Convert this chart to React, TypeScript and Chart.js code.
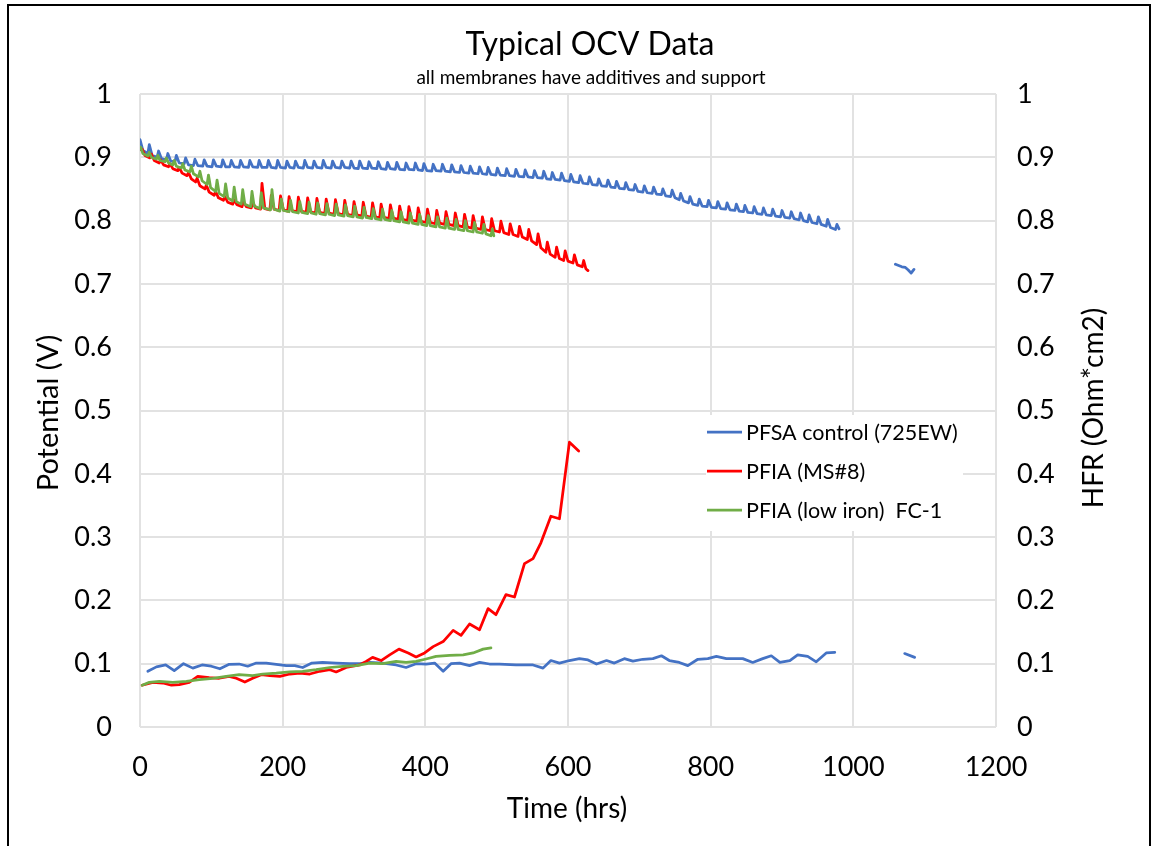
import React, { useEffect, useRef } from 'react';
import { Chart, registerables } from 'chart.js';

Chart.register(...registerables);

const FONT = 'Lato, "Open Sans", sans-serif';

const chartTitle = 'Typical OCV Data';
const chartSubtitle = 'all membranes have additives and support';
const xAxisTitle = 'Time (hrs)';
const yAxisTitle = 'Potential (V)';
const y1AxisTitle = 'HFR (Ohm*cm2)';

const xTickLabels = ['0', '200', '400', '600', '800', '1000', '1200'];
const yTickLabels = ['0', '0.1', '0.2', '0.3', '0.4', '0.5', '0.6', '0.7', '0.8', '0.9', '1'];

const seriesNames = ['PFSA control (725EW)', 'PFIA (MS#8)', 'PFIA (low iron)  FC-1'];
const seriesColors = ['#4472C4', '#FF0000', '#70AD47'];

type Pt = [number, number | null];

// OCV (potential, V) vs time (hrs)
const pfsaOcv: Pt[] = [
  [0, .928], [4, .911], [11, .906],
  [13, .920], [17, .903], [24, .900],
  [26, .910], [30, .898], [37, .896],
  [39, .906], [43, .894], [49, .893],
  [51, .903], [55, .891], [62, .890],
  [64, .899], [68, .888], [75, .887],
  [77, .897], [81, .887], [88, .886],
  [90, .896], [94, .886], [101, .885],
  [103, .896], [107, .886], [114, .885],
  [116, .896], [120, .885], [126, .885],
  [128, .895], [132, .885], [139, .884],
  [141, .895], [145, .885], [152, .884],
  [154, .895], [158, .885], [165, .884],
  [167, .895], [171, .884], [178, .884],
  [180, .895], [184, .884], [191, .883],
  [193, .895], [197, .884], [204, .883],
  [206, .894], [210, .884], [216, .883],
  [218, .894], [222, .884], [229, .883],
  [231, .895], [235, .884], [242, .883],
  [244, .894], [248, .884], [255, .883],
  [257, .895], [261, .884], [268, .883],
  [270, .894], [274, .884], [281, .883],
  [283, .894], [287, .884], [294, .883],
  [296, .894], [300, .883], [306, .882],
  [308, .894], [312, .883], [319, .882],
  [321, .893], [325, .883], [332, .882],
  [334, .893], [338, .882], [345, .881],
  [347, .892], [351, .882], [358, .881],
  [360, .892], [364, .881], [371, .880],
  [373, .891], [377, .881], [384, .880],
  [386, .891], [390, .880], [396, .879],
  [398, .890], [402, .879], [409, .878],
  [411, .889], [415, .879], [422, .878],
  [424, .889], [428, .878], [435, .877],
  [437, .888], [441, .877], [448, .876],
  [450, .887], [454, .876], [461, .875],
  [463, .886], [467, .875], [474, .874],
  [476, .885], [480, .874], [486, .873],
  [488, .884], [492, .873], [499, .872],
  [501, .883], [505, .872], [512, .871],
  [514, .882], [518, .871], [525, .870],
  [527, .881], [531, .870], [538, .869],
  [540, .880], [544, .869], [551, .868],
  [553, .879], [557, .868], [564, .867],
  [566, .878], [570, .866], [576, .865],
  [578, .876], [582, .865], [589, .864],
  [591, .875], [595, .863], [602, .862],
  [604, .873], [608, .861], [615, .860],
  [617, .871], [621, .859], [628, .858],
  [630, .869], [634, .857], [641, .856],
  [643, .866], [647, .855], [654, .854],
  [656, .864], [660, .853], [666, .852],
  [668, .862], [672, .851], [679, .850],
  [681, .860], [685, .849], [692, .848],
  [694, .857], [698, .846], [705, .845],
  [707, .855], [711, .844], [718, .843],
  [720, .853], [724, .842], [731, .841],
  [733, .850], [737, .839], [744, .838],
  [746, .848], [750, .836], [756, .833],
  [758, .843], [762, .831], [769, .828],
  [771, .838], [775, .826], [782, .824],
  [784, .834], [788, .823], [795, .822],
  [797, .832], [801, .821], [808, .820],
  [810, .830], [814, .819], [821, .818],
  [823, .828], [827, .817], [834, .816],
  [836, .826], [840, .815], [846, .814],
  [848, .824], [852, .813], [859, .812],
  [861, .822], [865, .811], [872, .810],
  [874, .820], [878, .809], [885, .808],
  [887, .818], [891, .807], [898, .806],
  [900, .816], [904, .805], [911, .804],
  [913, .814], [917, .803], [924, .801],
  [926, .812], [930, .800], [936, .798],
  [938, .809], [942, .797], [949, .795],
  [951, .806], [955, .794], [962, .791],
  [964, .802], [968, .789], [975, .786],
  [977, .794], [980, .787],
  [1020, null],
  [1059, .731], [1068, .727], [1073, .726], [1077, .722], [1081, .717], [1085, .723],
];

const pfiaOcv: Pt[] = [
  [0, .912],
  [3, .913], [7, .903], [14, .899],
  [16, .905], [20, .895], [27, .891],
  [29, .896], [33, .888], [40, .885],
  [42, .890], [46, .882], [53, .879],
  [55, .884], [59, .875], [66, .871],
  [68, .876], [72, .866], [78, .861],
  [80, .867], [84, .855], [91, .850],
  [93, .856], [97, .845], [104, .840],
  [106, .846], [110, .836], [117, .832],
  [119, .838], [123, .829], [130, .826],
  [132, .833], [136, .825], [143, .822],
  [145, .830], [149, .822], [156, .820],
  [158, .829], [162, .820], [169, .818],
  [171, .859], [175, .819], [182, .817],
  [184, .840], [188, .818], [195, .816],
  [197, .839], [201, .817], [207, .815],
  [209, .838], [213, .816], [220, .814],
  [222, .837], [226, .815], [233, .813],
  [235, .836], [239, .814], [246, .812],
  [248, .835], [252, .813], [259, .811],
  [261, .834], [265, .812], [272, .810],
  [274, .833], [278, .811], [285, .809],
  [287, .832], [291, .810], [298, .808],
  [300, .830], [304, .809], [311, .807],
  [313, .829], [317, .807], [324, .805],
  [326, .828], [330, .806], [336, .804],
  [338, .826], [342, .805], [349, .803],
  [351, .825], [355, .804], [362, .802],
  [364, .823], [368, .802], [375, .800],
  [377, .822], [381, .801], [388, .799],
  [390, .820], [394, .799], [401, .797],
  [403, .818], [407, .797], [414, .795],
  [416, .816], [420, .796], [427, .794],
  [429, .814], [433, .794], [440, .792],
  [442, .812], [446, .792], [453, .790],
  [455, .810], [459, .790], [465, .788],
  [467, .808], [471, .788], [478, .786],
  [480, .806], [484, .786], [491, .784],
  [493, .803], [497, .784], [504, .782],
  [506, .799], [510, .781], [517, .778],
  [519, .795], [523, .778], [530, .775],
  [532, .791], [536, .774], [543, .770],
  [545, .786], [549, .768], [556, .762],
  [558, .779], [562, .757], [569, .750],
  [571, .766], [575, .747], [582, .742],
  [584, .758], [588, .740], [594, .737],
  [596, .752], [600, .736], [607, .733],
  [609, .746], [613, .730], [620, .727],
  [622, .737], [625, .724], [628, .721],
];

const pfiaLowFeOcv: Pt[] = [
  [0, .913],
  [1, .916], [4, .906], [11, .902],
  [13, .908], [16, .900], [23, .897],
  [25, .903], [28, .895], [35, .893],
  [37, .899], [40, .891], [46, .888],
  [48, .895], [51, .886], [58, .883],
  [60, .890], [63, .880], [70, .877],
  [72, .886], [75, .874], [82, .869],
  [84, .878], [87, .863], [94, .857],
  [96, .872], [99, .852], [106, .846],
  [108, .864], [111, .843], [118, .838],
  [120, .858], [123, .836], [130, .831],
  [132, .853], [135, .830], [142, .826],
  [144, .849], [147, .826], [155, .822],
  [157, .846], [160, .823], [168, .819],
  [170, .844], [173, .820], [183, .817],
  [185, .849], [188, .818], [196, .815],
  [198, .834], [201, .816], [209, .814],
  [211, .832], [214, .814], [222, .812],
  [224, .830], [227, .813], [235, .811],
  [237, .829], [240, .812], [247, .810],
  [249, .828], [252, .811], [260, .809],
  [262, .827], [265, .810], [273, .808],
  [275, .826], [278, .809], [286, .807],
  [288, .825], [291, .808], [299, .806],
  [301, .823], [304, .806], [312, .804],
  [314, .821], [317, .805], [325, .803],
  [327, .819], [330, .803], [338, .801],
  [340, .818], [343, .802], [351, .800],
  [353, .816], [356, .800], [364, .798],
  [366, .814], [369, .798], [377, .796],
  [379, .812], [382, .796], [390, .794],
  [392, .810], [395, .794], [402, .792],
  [404, .808], [407, .792], [415, .790],
  [417, .806], [420, .790], [428, .788],
  [430, .804], [433, .788], [441, .786],
  [443, .802], [446, .786], [454, .784],
  [456, .800], [459, .784], [467, .782],
  [469, .797], [472, .782], [480, .780],
  [482, .794], [485, .779], [492, .776],
  [494, .787], [496, .776],
];

// HFR (Ohm*cm2) vs time (hrs)
const pfsaHfr: Pt[] = [
  [11, .088], [23, .095], [36, .098], [48, .089], [61, .100], [74, .093], [87, .098],
  [100, .096], [112, .092], [125, .099], [139, .0995], [151, .096], [163, .101], [177, .101],
  [191, .099], [205, .097], [217, .097], [228, .094], [241, .101], [256, .102], [275, .101],
  [294, .100], [308, .100], [322, .102], [340, .101], [359, .098], [373, .094], [387, .100],
  [401, .0995], [413, .101], [425, .088], [436, .100], [448, .101], [462, .097], [476, .102],
  [490, .0995], [504, .0995], [527, .098], [551, .098], [565, .093], [576, .105], [588, .101],
  [602, .105], [616, .108], [628, .106], [640, .0995], [654, .105], [665, .101], [679, .108],
  [691, .104], [705, .107], [719, .108], [731, .1125], [742, .105], [756, .102], [768, .097],
  [782, .107], [796, .108], [808, .1115], [822, .108], [845, .108], [859, .102], [873, .108],
  [885, .1125], [897, .102], [911, .105], [922, .114], [936, .1115], [948, .103], [962, .117],
  [974, .118],
  [1020, null],
  [1072, .116], [1086, .110],
];

const pfiaHfr: Pt[] = [
  [3, .066], [18, .0705], [32, .0695], [44, .066], [55, .067], [69, .0705], [81, .080],
  [97, .078], [111, .077], [125, .080], [135, .077], [147, .071], [158, .077], [170, .0826],
  [182, .081], [196, .080], [210, .0837], [224, .085], [238, .0837], [252, .088], [266, .0905],
  [275, .087], [289, .094], [308, .098], [317, .1036], [326, .110], [338, .105], [350, .114],
  [363, .123], [376, .117], [387, .1106], [399, .117], [411, .127], [425, .135], [439, .1526],
  [450, .1447], [462, .1627], [476, .1537], [488, .187], [499, .1774], [513, .209], [525, .2054],
  [539, .258], [551, .266], [562, .291], [576, .333], [588, .329], [602, .450], [615, .436],
];

const pfiaLowFeHfr: Pt[] = [
  [3, .066], [13, .0705], [27, .072], [46, .0705], [65, .072], [83, .0747], [102, .0768],
  [121, .080], [139, .0826], [158, .081], [172, .0837], [191, .085], [210, .087], [228, .0878],
  [247, .0905], [266, .094], [284, .0957], [303, .097], [322, .101], [340, .100], [359, .1036],
  [373, .102], [387, .1036], [401, .1074], [415, .1115], [434, .113], [453, .114], [467, .117],
  [481, .123], [492, .125],
];

const toXY = (pts: Pt[]) => pts.map(([x, y]) => ({ x, y }));

const GRID = '#e2e2e2';

const decorPlugin = {
  id: 'decor',
  afterDraw(chart: any) {
    const ctx: CanvasRenderingContext2D = chart.ctx;
    ctx.save();
    // outer frame
    ctx.strokeStyle = '#000';
    ctx.lineWidth = 2;
    ctx.strokeRect(8, 5, 1142, 900);

    ctx.fillStyle = '#000';
    ctx.textAlign = 'center';
    ctx.textBaseline = 'alphabetic';
    ctx.font = `32px ${FONT}`;
    ctx.fillText(chartTitle, 590, 55);
    ctx.font = `19px ${FONT}`;
    ctx.fillText(chartSubtitle, 591, 84);

    ctx.font = `28px ${FONT}`;
    ctx.fillText(xAxisTitle, 567, 818);

    ctx.font = `29px ${FONT}`;
    ctx.save();
    ctx.translate(58, 413);
    ctx.rotate(-Math.PI / 2);
    ctx.fillText(yAxisTitle, 0, 0);
    ctx.restore();

    ctx.font = `28px ${FONT}`;
    ctx.save();
    ctx.translate(1103, 408);
    ctx.rotate(-Math.PI / 2);
    ctx.fillText(y1AxisTitle, 0, 0);
    ctx.restore();

    // legend
    ctx.fillStyle = '#fff';
    ctx.fillRect(706, 415, 257, 116);
    const rows = [432, 471, 510];
    ctx.font = `21.5px ${FONT}`;
    ctx.textAlign = 'left';
    rows.forEach((yy, i) => {
      ctx.strokeStyle = seriesColors[i];
      ctx.lineWidth = 2.75;
      ctx.beginPath();
      ctx.moveTo(707, yy);
      ctx.lineTo(742, yy);
      ctx.stroke();
      ctx.fillStyle = '#000';
      ctx.fillText(seriesNames[i], 746, yy + 7.5);
    });
    ctx.restore();
  },
};

export default function App() {
  const ref = useRef<HTMLCanvasElement>(null);

  useEffect(() => {
    if (!ref.current) return;
    const line = (data: Pt[], color: string, axis: string, order: number) => ({
      data: toXY(data),
      borderColor: color,
      backgroundColor: color,
      borderWidth: 2.75,
      pointRadius: 0,
      tension: 0,
      fill: false,
      spanGaps: false,
      yAxisID: axis,
      order,
      borderJoinStyle: 'round' as const,
      borderCapStyle: 'round' as const,
    });
    const tickFont = { family: FONT, size: 27 };
    const chart = new Chart(ref.current, {
      type: 'line',
      data: {
        datasets: [
          line(pfsaOcv, seriesColors[0], 'y', 5),
          line(pfiaOcv, seriesColors[1], 'y', 4),
          line(pfiaLowFeOcv, seriesColors[2], 'y', 3),
          line(pfsaHfr, seriesColors[0], 'y1', 2),
          line(pfiaHfr, seriesColors[1], 'y1', 1),
          line(pfiaLowFeHfr, seriesColors[2], 'y1', 0),
        ],
      },
      options: {
        responsive: false,
        animation: false,
        events: [],
        layout: { padding: { top: 94, left: 0, right: 0, bottom: 0 } },
        plugins: {
          legend: { display: false },
          title: { display: false },
          tooltip: { enabled: false },
        },
        scales: {
          x: {
            type: 'linear',
            min: 0,
            max: 1200,
            afterFit: (s: any) => { s.height = 119; },
            ticks: {
              stepSize: 200,
              padding: 24,
              color: '#000',
              font: tickFont,
              maxRotation: 0,
              autoSkip: false,
              callback: (_v: any, i: number) => xTickLabels[i],
            },
            grid: { color: GRID, lineWidth: 2, drawTicks: false },
            border: { display: false },
          },
          y: {
            type: 'linear',
            position: 'left',
            min: 0,
            max: 1,
            afterFit: (s: any) => { s.width = 140; },
            ticks: {
              stepSize: 0.1,
              padding: 28,
              color: '#000',
              font: tickFont,
              autoSkip: false,
              callback: (_v: any, i: number) => yTickLabels[i],
            },
            grid: { color: GRID, lineWidth: 2, drawTicks: false },
            border: { display: false },
          },
          y1: {
            type: 'linear',
            position: 'right',
            min: 0,
            max: 1,
            afterFit: (s: any) => { s.width = 159; },
            ticks: {
              stepSize: 0.1,
              padding: 21,
              color: '#000',
              font: tickFont,
              autoSkip: false,
              callback: (_v: any, i: number) => yTickLabels[i],
            },
            grid: { drawOnChartArea: false, drawTicks: false },
            border: { display: false },
          },
        },
      },
      plugins: [decorPlugin],
    });
    return () => chart.destroy();
  }, []);

  return (
    <div style={{ position: 'absolute', left: 0, top: 0, width: 1155, height: 846, background: '#fff', overflow: 'hidden' }}>
      <canvas ref={ref} width={1155} height={846} style={{ display: 'block' }} />
    </div>
  );
}
